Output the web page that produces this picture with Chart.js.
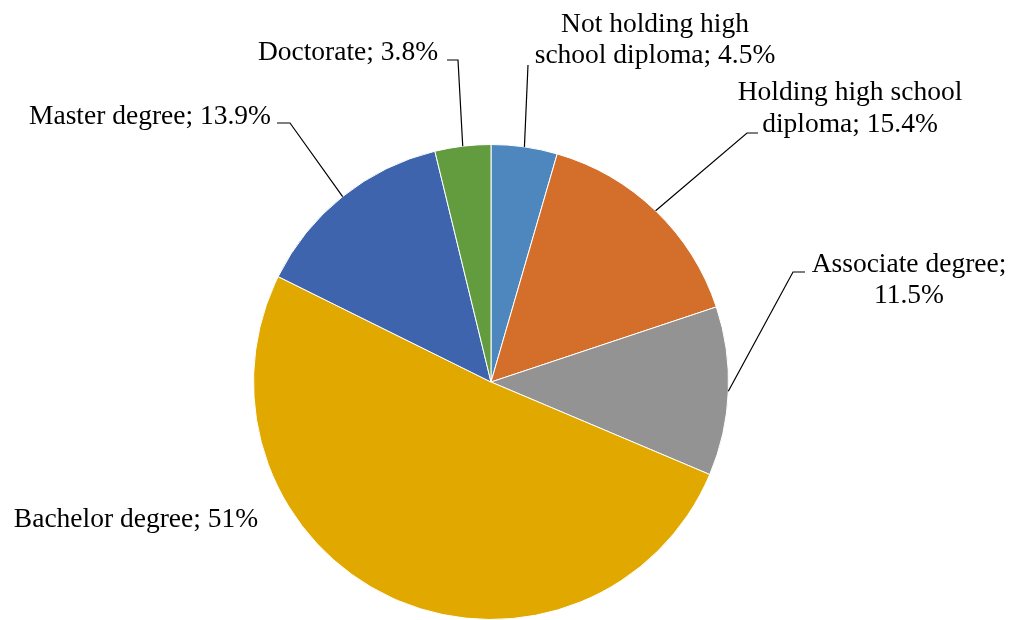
<!DOCTYPE html>
<html>
<head>
<meta charset="utf-8">
<script src="https://cdn.jsdelivr.net/npm/chart.js@4"></script>
<style>
  html, body { margin: 0; padding: 0; background: #fff; }
  #wrap { width: 1014px; height: 620px; }
</style>
</head>
<body>
<div id="wrap"><canvas id="chart"></canvas></div>
<script>
const categories = [
    'Not holding high school diploma',
    'Holding high school diploma',
    'Associate degree',
    'Bachelor degree',
    'Master degree',
    'Doctorate'
];
const shares = [4.5, 15.4, 11.5, 51, 13.9, 3.8];
const valueLabels = ['4.5%', '15.4%', '11.5%', '51%', '13.9%', '3.8%'];
const colours = ['#4E87BD', '#D46F2B', '#939393', '#E1A800', '#3D64AD', '#629C3E'];

// où poser chaque étiquette (lignes, ligne de base, départ du trait)
const labelLayout = [
    { lines: ['Not holding high', 'school diploma; 4.5%'], x: 655, y: [32, 63], leader: [[528, 65]] },
    { lines: ['Holding high school', 'diploma; 15.4%'], x: 850, y: [100, 132], leader: [[758, 133], [747, 133]] },
    { lines: ['Associate degree;', '11.5%'], x: 909, y: [272, 303], leader: [[805, 272], [793, 272]] },
    { lines: ['Bachelor degree; 51%'], x: 136, y: [527], leader: null },
    { lines: ['Master degree; 13.9%'], x: 150, y: [124], leader: [[277, 123], [290, 123]] },
    { lines: ['Doctorate; 3.8%'], x: 348, y: [60], leader: [[447, 60], [458, 60]] }
];

const labelPlugin = {
    id: 'sliceLabels',
    afterDraw(chart) {
        const ctx = chart.ctx;
        const arcs = chart.getDatasetMeta(0).data;
        ctx.save();
        ctx.font = '27.5px "Liberation Serif", "Times New Roman", serif';
        ctx.fillStyle = '#000';
        ctx.textAlign = 'center';
        ctx.textBaseline = 'alphabetic';
        labelLayout.forEach((lab, i) => {
            lab.lines.forEach((t, k) => ctx.fillText(t, lab.x, lab.y[k]));
            if (!lab.leader) return;
            const a = arcs[i];
            const mid = (a.startAngle + a.endAngle) / 2;
            const ex = a.x + a.outerRadius * Math.cos(mid);
            const ey = a.y + a.outerRadius * Math.sin(mid);
            ctx.beginPath();
            ctx.strokeStyle = '#000';
            ctx.lineWidth = 1.2;
            ctx.moveTo(lab.leader[0][0], lab.leader[0][1]);
            for (let p = 1; p < lab.leader.length; p++) ctx.lineTo(lab.leader[p][0], lab.leader[p][1]);
            ctx.lineTo(ex, ey);
            ctx.stroke();
        });
        ctx.restore();
    }
};

new Chart(document.getElementById('chart'), {
    type: 'pie',
    data: {
        labels: categories,
        datasets: [{
            data: shares,
            backgroundColor: colours,
            borderColor: '#ffffff',
            borderWidth: 1
        }]
    },
    options: {
        responsive: true,
        maintainAspectRatio: false,
        animation: false,
        layout: { padding: { top: 144, bottom: 0, left: 0, right: 32 } },
        plugins: {
            legend: { display: false },
            tooltip: { enabled: false }
        }
    },
    plugins: [labelPlugin]
});
</script>
</body>
</html>
